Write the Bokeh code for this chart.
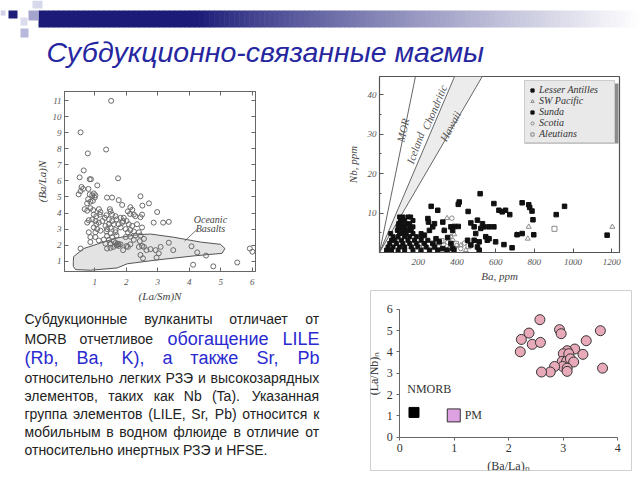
from bokeh.plotting import figure
from bokeh.models import (Range1d, ColumnDataSource, Legend, LegendItem, LinearAxis,
                          FixedTicker, BoxAnnotation)
from bokeh.core.properties import value
from bokeh.embed import file_html
from bokeh.resources import INLINE

# ---------------- data ----------------
title_text = "Субдукционно-связанные магмы"

# left plot: (La/Sm)N vs (Ba/La)N
lasm = [1.52,0.55,1.36,0.78,0.65,0.52,1.74,0.84,0.88,0.58,0.63,0.55,1.08,0.80,0.49,0.84,0.92,0.97,1.02,
        1.39,1.55,2.45,0.79,0.86,0.94,1.00,1.76,0.76,1.87,2.72,0.68,0.76,0.86,0.95,1.13,1.18,1.48,1.50,
        2.13,2.19,2.51,2.98,0.97,1.05,1.16,1.37,1.55,1.66,2.05,2.12,2.24,1.92,2.01,0.81,0.92,1.02,1.24,
        1.32,1.45,1.55,1.69,1.82,1.90,2.29,2.45,2.50,0.76,1.05,1.13,1.34,1.45,1.60,1.76,1.87,2.08,2.19,
        2.34,2.50,2.87,3.17,3.35,0.97,1.08,1.39,1.50,1.66,1.82,1.98,2.13,0.81,1.02,1.18,1.37,1.50,1.66,
        2.05,2.24,2.40,0.86,1.02,1.39,1.55,1.69,1.98,2.13,2.29,2.45,1.13,1.29,1.45,1.60,2.24,2.43,2.56,
        1.34,1.50,1.66,1.76,0.86,1.69,1.73,1.76,1.82,1.59,1.50,2.01,2.13,2.40,2.50,0.55,1.39,1.90,2.05,
        2.56,2.64,2.77,2.93,3.03,2.45,2.53,2.96,3.09,3.35,3.49,4.07,4.25,4.53,4.12,4.76,5.52,5.92,6.00]
bala = [10.98,9.02,7.95,7.71,6.65,6.22,6.16,6.10,6.10,5.62,5.50,5.36,5.72,5.50,5.16,5.16,5.10,5.22,5.10,
        4.96,4.96,5.04,4.86,4.70,4.76,4.96,4.80,4.60,4.50,4.60,4.24,4.14,4.30,4.18,4.24,4.06,4.24,4.10,
        4.36,4.20,4.46,4.06,3.90,3.80,3.90,3.86,3.90,3.80,4.10,3.94,3.90,3.70,3.50,3.55,3.60,3.50,3.50,
        3.70,3.60,3.50,3.60,3.70,3.50,3.80,3.74,3.90,3.40,3.30,3.40,3.20,3.30,3.30,3.30,3.40,3.30,3.20,
        3.30,3.10,3.40,3.40,3.45,3.10,3.00,3.00,3.10,2.94,3.10,3.00,2.94,2.80,2.80,2.90,2.85,2.73,2.80,
        2.80,2.85,2.80,2.50,2.50,2.57,2.50,2.60,2.50,2.53,2.60,2.60,2.29,2.35,2.33,2.25,2.33,2.25,2.39,
        2.09,2.09,2.13,2.05,2.19,1.99,2.09,1.95,2.05,1.89,1.83,1.95,2.05,1.89,1.95,1.79,1.79,1.69,1.89,
        1.89,1.69,1.75,1.69,1.49,1.39,1.18,1.22,1.89,2.15,1.69,1.93,1.55,1.35,0.78,0.68,0.92,1.79,1.59]
ocean_x = [0.32,0.33,0.65,1.18,1.71,2.35,2.77,3.51,4.36,4.99,5.13,5.04,4.14,2.98,2.03,1.71,0.86,0.39,0.32]
ocean_y = [0.98,1.29,1.79,2.13,2.45,2.65,2.69,2.49,2.19,2.05,1.79,1.49,1.33,1.08,0.84,0.58,0.44,0.48,0.68]
ocean_label = ["Oceanic", "Basalts"]
ocean_label_x = [4.67, 4.67]
ocean_label_y = [3.62, 3.02]
leader_x = [4.25, 3.85]
leader_y = [2.99, 2.25]

# top-right plot: Ba (ppm) vs Nb (ppm)
la_ba = [520,412,407,267,301,458,737,771,776,591,617,634,651,673,788,793,956,913,1176,711,737,797,685,643,
         600,557,549,540,566,591,506,532,523,472,489,497,455,489,515,566,472,506,515,369,386,407,378,327,
         335,284,275,250,253,258,232,292,309,275,369,378,386,352,284,301,327,349]
la_nb = [14.9,12.8,12.2,11.7,10.7,10.4,12.6,12.1,11.4,12.4,10.7,10.3,10.7,9.6,10.5,8.3,11.7,9.6,4.4,4.5,
         4.8,4.5,1.2,2.0,2.7,3.1,4.0,6.5,6.5,6.5,8.2,7.3,6.1,7.5,6.5,4.8,3.1,3.1,2.7,3.5,1.9,1.4,0.6,6.5,
         6.6,6.6,5.6,7.7,5.6,7.3,6.5,8.6,7.7,5.6,4.4,3.5,2.7,2.3,2.3,1.0,0.6,3.8,1.4,0.6,1.0,0.6]
su_ba = [104,121,147,161,109,130,173,99,116,138,156,96,113,130,156,173,92,109,126,144,164,58,104,121,138,
         173,215,70,96,130,156,190,215,62,79,113,147,181,215,250,53,87,121,156,190,232,44,70,104,130,164,
         198,241,36,62,96,130,173,215,258]
su_nb = [9.0,9.0,9.0,9.0,8.1,8.1,8.1,7.3,7.3,7.3,7.3,6.5,6.5,6.5,6.5,6.5,5.6,5.6,5.6,5.6,5.6,4.8,4.8,4.8,
         4.8,4.8,4.8,4.0,4.0,4.0,4.0,4.0,4.0,3.1,3.1,3.1,3.1,3.1,3.1,3.1,2.3,2.3,2.3,2.3,2.3,2.3,1.4,1.4,
         1.4,1.4,1.4,1.4,1.4,0.6,0.6,0.6,0.6,0.6,0.6,0.6]
sw_ba = [349,771,708,766,1203,332,386,130,232,301,369,446,164,420,250,200,90,330]
sw_nb = [8.7,6.5,4.6,3.5,6.5,5.6,4.6,5.6,3.1,2.7,4.0,0.6,1.4,1.8,1.2,2.0,3.6,0.8]
sc_ba = [374,352,378,400,330,306,420,282,440,260,360]
sc_nb = [8.7,2.6,3.0,1.8,2.0,1.4,1.0,2.2,2.4,0.4,1.0]
al_ba = [904,320,395,230,460]
al_nb = [6.0,2.9,2.2,1.8,1.6]
trend_names = ["MOR", "Iceland", "Chondritic", "Hawaii"]
trend_slopes = [0.24, 0.115, 0.084]          # Nb/Ba of the reference lines
trend_label_x = [121, 185, 284, 366]
trend_label_y = [31.0, 26.5, 36.8, 32.0]
trend_label_angle = [78, 70, 67, 62]          # degrees

# bottom-right plot: (Ba/La)n vs (La/Nb)n
bal_n = [2.57,2.23,2.37,2.43,2.58,2.21,2.93,2.96,3.68,3.42,3.21,3.36,3.07,3.00,3.10,2.98,3.06,3.13,3.19,
         2.99,3.07,3.07,2.84,2.76,2.60,3.72]
lanb_n = [5.52,4.59,4.89,4.36,4.45,4.01,5.05,4.86,5.00,4.53,4.14,3.89,4.06,3.92,3.92,3.56,3.56,3.68,3.53,
          3.32,3.24,3.09,3.32,3.06,3.06,3.24]
ref_names = ["NMORB", "PM"]
ref_bal = [0.26, 0.99]
ref_lanb = [1.16, 1.02]

# paragraph
para_lines = [
    [("Субдукционные", "k"), ("вулканиты", "k"), ("отличает", "k"), ("от", "k")],
    [("MORB", "k"), ("отчетливое", "k"), ("обогащение", "b"), ("LILE", "b")],
    [("(Rb,", "b"), ("Ba,", "b"), ("K),", "b"), ("а", "b"), ("также", "b"), ("Sr,", "b"), ("Pb", "b")],
    [("относительно", "k"), ("легких", "k"), ("РЗЭ", "k"), ("и", "k"), ("высокозарядных", "k")],
    [("элементов,", "k"), ("таких", "k"), ("как", "k"), ("Nb", "k"), ("(Ta).", "k"), ("Указанная", "k")],
    [("группа", "k"), ("элементов", "k"), ("(LILE,", "k"), ("Sr,", "k"), ("Pb)", "k"), ("относится", "k"), ("к", "k")],
    [("мобильным", "k"), ("в", "k"), ("водном", "k"), ("флюиде", "k"), ("в", "k"), ("отличие", "k"), ("от", "k")],
    [("относительно инертных РЗЭ и HFSE.", "k")],
]

# ---------------- styles ----------------
SERIF = "Liberation Serif"
SANS = "Liberation Sans"
line_y = [318, 338, 357, 377, 395, 413, 431, 449]
TXT_L, TXT_R = 24, 319
styles = {"k": ("14px", "#222222", 14.0), "b": ("18px", "#2a2ad0", 18.0)}

W = {' ':278, ',':278, '.':278, '(':333, ')':333, '-':333, '/':278}
for ch, w in zip("abcdefghijklmnopqrstuvwxyz",
                 [556,556,500,556,556,278,556,556,222,222,500,222,833,556,556,556,556,333,500,278,556,500,722,500,500,500]):
    W[ch] = w
for ch, w in zip("ABCDEFGHIJKLMNOPQRSTUVWXYZ",
                 [667,667,722,722,667,611,778,722,278,500,667,556,833,722,778,667,778,722,667,611,722,667,944,667,667,611]):
    W[ch] = w
for ch, w in zip("абвгдежзийклмнопрстуфхцчшщъыьэюя",
                 [556,573,531,365,583,556,669,458,559,559,438,583,688,552,556,542,556,500,458,500,823,500,560,531,823,833,583,729,521,500,802,542]):
    W[ch] = w
for ch, w in zip("АБВГДЕЖЗИКЛМНОПРСТУФХЦЧШЩЭЮЯ",
                 [667,656,667,531,684,667,917,589,722,583,688,833,722,778,722,667,722,611,635,771,667,740,667,990,1000,719,1010,719]):
    W[ch] = w

def text_w(s, px):
    return sum(W.get(c, 556) for c in s) / 1000.0 * px

def place(left, top):
    return {"position": "absolute", "left": "%dpx" % left, "top": "%dpx" % top}

# ---------------- header ----------------
hdr = figure(width=640, height=74, x_range=Range1d(0, 640), y_range=Range1d(74, 0),
             x_axis_location=None, y_axis_location=None, output_backend="svg",
             toolbar_location=None, min_border_left=0, min_border_right=0,
             min_border_top=0, min_border_bottom=0, styles=place(0, 0))
hdr.grid.visible = False
hdr.outline_line_color = None

n_sl = 120
gx0, gx1 = 38.0, 640.0
lefts, rights, cols = [], [], []
navy = (28, 28, 120)
for i in range(n_sl):
    a = gx0 + (gx1 - gx0) * i / n_sl
    b = gx0 + (gx1 - gx0) * (i + 1) / n_sl + 0.6
    xm = (a + b) / 2
    t = min(max((xm - 200.0) / 440.0, 0.0), 1.0) ** 0.85
    c = tuple(int(round(navy[k] * (1 - t) + 255 * t)) for k in range(3))
    lefts.append(a); rights.append(b); cols.append("#%02x%02x%02x" % c)
hdr.quad(left=lefts, right=rights, top=[10] * n_sl, bottom=[27] * n_sl,
         fill_color=cols, line_color=None)
hdr.quad(left=[0, 8, 20, 28, 32, 20], right=[5, 17, 27, 38, 42, 28], top=[10, 10, 17, 10, 0, 28],
         bottom=[15, 18, 25, 20, 8, 37],
         fill_color=["#d0d0e8", "#1e1e78", "#dcdcee", "#a4a4cc", "#d8d8ec", "#b8b8dc"], line_color=None)
hdr.text(x=[46], y=[51], text=[title_text], text_font=value(SANS), text_font_style="italic",
         text_font_size="28.5px", text_color="#2626a0", text_baseline="alphabetic", text_align="left")

# ---------------- left plot ----------------
pl = figure(width=330, height=232, x_range=Range1d(0.04, 6.10), y_range=Range1d(0.36, 11.56),
            output_backend="svg", toolbar_location=None,
            min_border_left=56, min_border_right=83, min_border_top=19, min_border_bottom=27,
            styles=place(8, 72))
pl.border_fill_color = None
pl.grid.visible = False
pl.outline_line_color = "#666666"
pl.patch(ocean_x, ocean_y, fill_color="#e3e3e3", line_color="#555555", line_width=1)
pl.scatter(lasm, bala, marker="circle", size=5, fill_color=None, line_color="#6a6a6a", line_width=1)
pl.line(leader_x, leader_y, line_color="#555555", line_width=0.8)
pl.text(ocean_label_x, ocean_label_y, ocean_label, text_font=value(SERIF), text_font_style="italic",
        text_font_size="10px", text_color="#444444", text_align="center", text_baseline="middle")
xt = FixedTicker(ticks=[1, 2, 3, 4, 5, 6])
yt = FixedTicker(ticks=list(range(1, 12)))
pl.add_layout(LinearAxis(ticker=xt, major_label_overrides={i: "" for i in range(1, 7)}), "above")
pl.add_layout(LinearAxis(ticker=yt, major_label_overrides={i: "" for i in range(1, 12)}), "right")
pl.xaxis[0].ticker = xt
pl.yaxis[0].ticker = yt
for ax in pl.xaxis + pl.yaxis:
    ax.major_tick_in = 4
    ax.major_tick_out = 0
    ax.minor_tick_line_color = None
    ax.axis_line_color = "#666666"
    ax.major_tick_line_color = "#666666"
    ax.major_label_text_font = SERIF
    ax.major_label_text_font_style = "italic"
    ax.major_label_text_font_size = "9px"
    ax.major_label_text_color = "#555555"
    ax.major_label_standoff = 3
    ax.axis_label_text_font = SERIF
    ax.axis_label_text_font_style = "italic"
    ax.axis_label_text_font_size = "11px"
    ax.axis_label_text_color = "#444444"
    ax.axis_label_standoff = 2
pl.below[0].axis_label = "(La/Sm)N"
pl.left[0].axis_label = "(Ba/La)N"

# ---------------- paragraph ----------------
tx = figure(width=330, height=168, x_range=Range1d(8, 338), y_range=Range1d(472, 304),
            x_axis_location=None, y_axis_location=None, output_backend="svg",
            toolbar_location=None, min_border_left=0, min_border_right=0,
            min_border_top=0, min_border_bottom=0, styles=place(8, 304))
tx.border_fill_color = None
tx.background_fill_color = None
tx.grid.visible = False
tx.outline_line_color = None
wx, wy, wt, ws, wc = [], [], [], [], []
for li, words in enumerate(para_lines):
    widths = [text_w(w, styles[s][2]) for w, s in words]
    gap = (TXT_R - TXT_L - sum(widths)) / (len(words) - 1) if len(words) > 1 else 0
    x = TXT_L
    for (w, s), ww in zip(words, widths):
        wx.append(x); wy.append(line_y[li]); wt.append(w)
        ws.append(styles[s][0]); wc.append(styles[s][1])
        x += ww + gap
tsrc = ColumnDataSource(dict(x=wx, y=wy, text=wt, size=ws, color=wc))
tx.text(x="x", y="y", text="text", source=tsrc, text_font=value(SANS), text_font_size="size",
        text_color="color", text_align="left", text_baseline="middle")

# ---------------- top-right plot ----------------
YMAX = 44.6
pr = figure(width=294, height=212, x_range=Range1d(0, 1240), y_range=Range1d(0, YMAX),
            output_backend="svg", toolbar_location=None,
            min_border_left=41, min_border_right=13, min_border_top=4, min_border_bottom=32,
            styles=place(338, 72))
pr.border_fill_color = None
pr.grid.visible = False
pr.outline_line_color = "#555555"
pr.outline_line_width = 1.2
pr.patch([0, YMAX / trend_slopes[1], YMAX / trend_slopes[2]], [0, YMAX, YMAX],
         fill_color="#ececec", line_color=None)
for s in trend_slopes:
    pr.line([0, YMAX / s], [0, YMAX], line_color="#666666", line_width=1)
pr.text(trend_label_x, trend_label_y, trend_names, angle=[a * 3.14159265 / 180 for a in trend_label_angle],
        text_font=value(SERIF), text_font_style="italic", text_font_size="11px",
        text_color="#555555", text_align="center", text_baseline="middle")
r_sw = pr.scatter(sw_ba, sw_nb, marker="triangle", size=5, fill_color=None, line_color="#8a8a8a")
r_sc = pr.scatter(sc_ba, sc_nb, marker="circle", size=4.5, fill_color=None, line_color="#8a8a8a")
r_al = pr.scatter(al_ba, al_nb, marker="square", size=5, fill_color=None, line_color="#8a8a8a")
r_su = pr.scatter(su_ba, su_nb, marker="square", size=4, fill_color="#111111", line_color="#111111")
r_la = pr.scatter(la_ba, la_nb, marker="square", size=4.5, fill_color="#111111", line_color="#111111")

FW, FH = 240.0, 176.0
def fx(px): return px / FW * 1240
def fy(py): return YMAX * (1 - py / FH)
pr.add_layout(BoxAnnotation(left=fx(145), right=fx(239), top=fy(7), bottom=fy(67),
                            fill_color="#8c8c8c", fill_alpha=1, line_color=None))
leg = Legend(items=[LegendItem(label="Lesser Antilles", renderers=[r_la]),
                    LegendItem(label="SW Pacific", renderers=[r_sw]),
                    LegendItem(label="Sunda", renderers=[r_su]),
                    LegendItem(label="Scotia", renderers=[r_sc]),
                    LegendItem(label="Aleutians", renderers=[r_al])],
             location="top_right", margin=4, padding=3, spacing=0, glyph_width=8, glyph_height=8,
             label_height=9, label_width=72, label_standoff=3,
             label_text_font=SERIF, label_text_font_style="italic", label_text_font_size="10px",
             label_text_color="#333333", background_fill_color="#e9e9e9", background_fill_alpha=1,
             border_line_color="#b0b0b0")
pr.add_layout(leg)
pr.xaxis.ticker = FixedTicker(ticks=[200, 400, 600, 800, 1000, 1200])
pr.yaxis.ticker = FixedTicker(ticks=[10, 20, 30, 40], minor_ticks=[5, 15, 25, 35])
for ax in pr.xaxis + pr.yaxis:
    ax.major_tick_in = 4
    ax.major_tick_out = 0
    ax.minor_tick_in = 2
    ax.minor_tick_out = 0
    ax.axis_line_color = "#555555"
    ax.major_tick_line_color = "#555555"
    ax.minor_tick_line_color = "#555555"
    ax.major_label_text_font = SERIF
    ax.major_label_text_font_style = "italic"
    ax.major_label_text_font_size = "9px"
    ax.major_label_text_color = "#555555"
    ax.axis_label_text_font = SERIF
    ax.axis_label_text_font_style = "italic"
    ax.axis_label_text_font_size = "11px"
    ax.axis_label_text_color = "#444444"
pr.xaxis.major_label_standoff = 6
pr.xaxis.axis_label_standoff = 2
pr.yaxis.major_label_standoff = 3
pr.yaxis.axis_label_standoff = 6
pr.xaxis.axis_label = "Ba, ppm"
pr.yaxis.axis_label = "Nb, ppm"

# ---------------- bottom-right plot ----------------
pb = figure(width=294, height=188, x_range=Range1d(-0.538, 4.251), y_range=Range1d(-1.569, 6.89),
            x_axis_location=None, y_axis_location=None, output_backend="svg", toolbar_location=None,
            min_border_left=32, min_border_right=1, min_border_top=6, min_border_bottom=2,
            styles=place(338, 284))
pb.border_fill_color = None
pb.grid.visible = False
pb.outline_line_color = "#d0d0d0"
xa = LinearAxis(fixed_location=0, bounds=(0, 4), ticker=FixedTicker(ticks=[0, 1, 2, 3, 4]),
                axis_label="(Ba/La)ₙ")
ya = LinearAxis(fixed_location=0, bounds=(0, 6), ticker=FixedTicker(ticks=[0, 1, 2, 3, 4, 5, 6]),
                axis_label="(La/Nb)ₙ")
for ax in (xa, ya):
    ax.major_tick_in = 0
    ax.major_tick_out = 3
    ax.minor_tick_line_color = None
    ax.axis_line_color = "#666666"
    ax.major_tick_line_color = "#666666"
    ax.major_label_text_font = SERIF
    ax.major_label_text_font_size = "12px"
    ax.major_label_text_color = "#333333"
    ax.major_label_standoff = 4
    ax.axis_label_text_font = SERIF
    ax.axis_label_text_font_style = "normal"
    ax.axis_label_text_font_size = "12px"
    ax.axis_label_text_color = "#333333"
    ax.axis_label_standoff = 3
pb.add_layout(xa, "below")
pb.add_layout(ya, "left")
pb.scatter(bal_n, lanb_n, marker="circle", size=10, fill_color="#e8a9b9", line_color="#333333", line_width=1)
pb.scatter(ref_bal[:1], ref_lanb[:1], marker="square", size=10, fill_color="#000000", line_color="#000000")
pb.scatter(ref_bal[1:], ref_lanb[1:], marker="square", size=13, fill_color="#dda0e0", line_color="#333333")
pb.text([0.136, 1.19], [2.27, 1.02], ref_names, text_font=value(SERIF), text_font_size="12px",
        text_color="#333333", text_align="left", text_baseline="middle")

roots = [hdr, pl, tx, pr, pb]
open("out.html", "w").write(file_html(roots, INLINE))
